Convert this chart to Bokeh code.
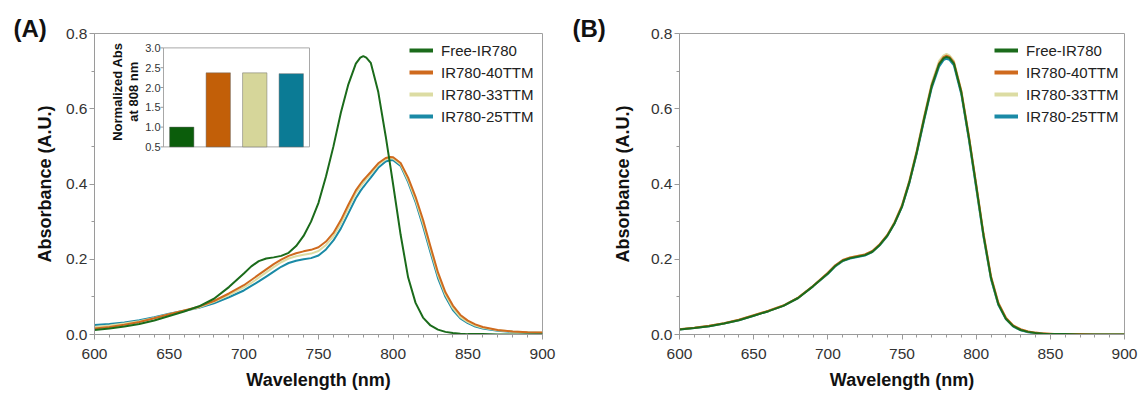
import math
import numpy as np
from bokeh.plotting import figure
from bokeh.models import (Range1d, Legend, LegendItem, FixedTicker,
                          PrintfTickFormatter)
from bokeh.layouts import row
from bokeh.embed import file_html
from bokeh.resources import INLINE
from bokeh.core.properties import value

# ---------------- data ----------------
series_names = ["Free-IR780", "IR780-40TTM", "IR780-33TTM", "IR780-25TTM"]
line_colors = ["#1b6b1b", "#cf6a1e", "#dcdca3", "#1a8aa6"]
bar_colors = ["#0b5d0b", "#c25f08", "#d6d69a", "#0b7b95"]

wavelength = [600, 610, 620, 630, 640, 650, 660, 670, 680, 690,
              700, 705, 710, 715, 720, 725, 730, 735, 740, 745,
              750, 755, 760, 765, 770, 775, 778, 780, 782, 785, 790, 795, 798,
              800, 805, 810, 815, 820, 825, 830, 835, 840, 845,
              850, 855, 860, 870, 880, 890, 900]

A_free = [0.012, 0.016, 0.021, 0.028, 0.037, 0.049, 0.061, 0.075, 0.095, 0.126,
          0.162, 0.181, 0.195, 0.202, 0.205, 0.209, 0.217, 0.235, 0.262, 0.300,
          0.350, 0.420, 0.500, 0.590, 0.665, 0.720, 0.736, 0.740, 0.736, 0.722, 0.645, 0.527, 0.450,
          0.398, 0.265, 0.152, 0.084, 0.045, 0.024, 0.013, 0.007, 0.004, 0.002,
          0.001, 0.001, 0.001, 0.0, 0.0, 0.0, 0.0]
A_40 = [0.016, 0.020, 0.026, 0.033, 0.043, 0.054, 0.064, 0.074, 0.089, 0.109,
        0.131, 0.145, 0.159, 0.173, 0.187, 0.199, 0.209, 0.216, 0.221, 0.225,
        0.232, 0.247, 0.270, 0.304, 0.345, 0.383, 0.400, 0.410, 0.419, 0.432, 0.455, 0.469, 0.472,
        0.471, 0.456, 0.417, 0.366, 0.305, 0.234, 0.165, 0.112, 0.077, 0.052,
        0.037, 0.027, 0.020, 0.012, 0.008, 0.006, 0.005]
A_33 = [0.020, 0.024, 0.029, 0.035, 0.044, 0.054, 0.063, 0.072, 0.087, 0.105,
        0.125, 0.137, 0.151, 0.165, 0.179, 0.192, 0.202, 0.208, 0.212, 0.215,
        0.222, 0.238, 0.261, 0.295, 0.336, 0.376, 0.393, 0.403, 0.413, 0.427, 0.451, 0.466, 0.469,
        0.468, 0.452, 0.410, 0.358, 0.296, 0.226, 0.158, 0.106, 0.070, 0.046,
        0.033, 0.024, 0.018, 0.011, 0.008, 0.006, 0.005]
A_25 = [0.025, 0.028, 0.032, 0.038, 0.046, 0.055, 0.063, 0.071, 0.083, 0.099,
        0.117, 0.129, 0.141, 0.154, 0.167, 0.180, 0.190, 0.196, 0.200, 0.203,
        0.210, 0.226, 0.250, 0.282, 0.322, 0.362, 0.381, 0.392, 0.402, 0.417, 0.443, 0.460, 0.463,
        0.463, 0.448, 0.405, 0.352, 0.288, 0.218, 0.150, 0.100, 0.065, 0.043,
        0.030, 0.021, 0.016, 0.010, 0.007, 0.005, 0.004]

B_free = [0.013, 0.017, 0.022, 0.029, 0.038, 0.050, 0.062, 0.076, 0.097, 0.128,
          0.162, 0.182, 0.196, 0.203, 0.207, 0.211, 0.220, 0.238, 0.262, 0.296,
          0.340, 0.405, 0.485, 0.575, 0.660, 0.718, 0.734, 0.738, 0.735, 0.720, 0.643, 0.525, 0.447,
          0.395, 0.262, 0.150, 0.080, 0.042, 0.022, 0.012, 0.007, 0.004, 0.002,
          0.001, 0.001, 0.001, 0.0, 0.0, 0.0, 0.0]
B_40 = [0.014, 0.018, 0.023, 0.030, 0.039, 0.051, 0.063, 0.077, 0.098, 0.129,
        0.164, 0.184, 0.198, 0.205, 0.209, 0.213, 0.222, 0.240, 0.264, 0.298,
        0.343, 0.408, 0.488, 0.578, 0.663, 0.721, 0.737, 0.741, 0.738, 0.723, 0.647, 0.530, 0.452,
        0.400, 0.267, 0.155, 0.084, 0.045, 0.024, 0.014, 0.008, 0.005, 0.003,
        0.002, 0.001, 0.001, 0.001, 0.0, 0.0, 0.0]
B_33 = [0.014, 0.018, 0.023, 0.030, 0.039, 0.051, 0.063, 0.077, 0.098, 0.129,
        0.163, 0.183, 0.197, 0.205, 0.209, 0.213, 0.221, 0.239, 0.264, 0.299,
        0.344, 0.410, 0.491, 0.582, 0.668, 0.727, 0.742, 0.746, 0.742, 0.727, 0.648, 0.529, 0.451,
        0.398, 0.264, 0.152, 0.082, 0.044, 0.023, 0.013, 0.008, 0.004, 0.002,
        0.001, 0.001, 0.001, 0.0, 0.0, 0.0, 0.0]
B_25 = [0.013, 0.017, 0.022, 0.029, 0.038, 0.050, 0.062, 0.076, 0.097, 0.128,
        0.161, 0.181, 0.195, 0.202, 0.206, 0.210, 0.219, 0.237, 0.261, 0.295,
        0.339, 0.403, 0.482, 0.571, 0.655, 0.712, 0.729, 0.733, 0.730, 0.715, 0.638, 0.520, 0.442,
        0.390, 0.258, 0.147, 0.078, 0.041, 0.021, 0.011, 0.006, 0.003, 0.002,
        0.001, 0.001, 0.0, 0.0, 0.0, 0.0, 0.0]

inset_values = [1.0, 2.37, 2.37, 2.35]
inset_ticks = [0.5, 1.0, 1.5, 2.0, 2.5, 3.0]

x_major = [600, 650, 700, 750, 800, 850, 900]
x_minor = [610, 620, 630, 640, 660, 670, 680, 690, 710, 720, 730, 740,
           760, 770, 780, 790, 810, 820, 830, 840, 860, 870, 880, 890]
y_major = [0.0, 0.2, 0.4, 0.6, 0.8]
y_minor = [0.1, 0.3, 0.5, 0.7]

FONT = "Liberation Sans"
AX = "#9a9a9a"
H = 394
TOP, BOTTOM = 33, 60
FH = H - TOP - BOTTOM  # frame height 301


def make_fig(width, bl, br, ylabel_standoff, title, title_offset):
    p = figure(width=width, height=H, x_range=Range1d(600, 900),
               y_range=Range1d(0, 0.8), output_backend="svg",
               toolbar_location=None, min_border_left=bl,
               min_border_right=br, min_border_top=TOP,
               min_border_bottom=BOTTOM)
    p.title.text = title
    p.title.align = "left"
    p.title.offset = title_offset
    p.title.standoff = -21
    p.title.vertical_align = "top"
    p.title.text_font = FONT
    p.title.text_font_size = "24px"
    p.title.text_font_style = "bold"
    p.title.text_color = "#111111"
    p.grid.visible = False
    p.outline_line_color = "#a0a0a0"
    p.background_fill_color = "white"
    p.xaxis.ticker = FixedTicker(ticks=x_major, minor_ticks=x_minor)
    p.yaxis.ticker = FixedTicker(ticks=y_major, minor_ticks=y_minor)
    p.xaxis.formatter = PrintfTickFormatter(format="%d")
    p.yaxis.formatter = PrintfTickFormatter(format="%.1f")
    for ax in (p.xaxis[0], p.yaxis[0]):
        ax.axis_line_color = AX
        ax.major_tick_line_color = AX
        ax.minor_tick_line_color = AX
        ax.major_tick_in = 0
        ax.major_tick_out = 5
        ax.minor_tick_in = 0
        ax.minor_tick_out = 3
        ax.major_label_text_font = FONT
        ax.major_label_text_font_size = "15.5px"
        ax.major_label_text_color = "#333333"
        ax.axis_label_text_font = FONT
        ax.axis_label_text_font_size = "18px"
        ax.axis_label_text_font_style = "bold"
        ax.axis_label_text_color = "#111111"
    p.xaxis.axis_label = "Wavelength (nm)"
    p.yaxis.axis_label = "Absorbance (A.U.)"
    p.xaxis.major_label_standoff = 9
    p.xaxis.axis_label_standoff = 8
    p.yaxis.major_label_standoff = 2
    p.yaxis.axis_label_standoff = ylabel_standoff
    return p


def add_curves(p, ys):
    order = [3, 2, 1, 0]  # teal, khaki, orange, green on top
    for i in order:
        p.line(wavelength, ys[i], line_color=line_colors[i], line_width=2)
    # legend swatches (thicker lines, nothing drawn in the plot area)
    dummies = [p.line(x=np.array([np.nan]), y=np.array([np.nan]),
                      line_color=c, line_width=4) for c in line_colors]
    legend = Legend(items=[LegendItem(label=n, renderers=[r])
                           for n, r in zip(series_names, dummies)],
                    location=(315, 207), padding=0, margin=0, spacing=0,
                    glyph_width=24, glyph_height=22, label_height=22,
                    label_standoff=8, border_line_color=None,
                    background_fill_alpha=0,
                    label_text_font=FONT, label_text_font_size="15px",
                    label_text_color="#222222")
    p.add_layout(legend)


# ---------------- panel A ----------------
FW_A = 448
pA = make_fig(560, 94, 18, 8, "(A)", -81)
add_curves(pA, [A_free, A_40, A_33, A_25])

# inset geometry (pixels relative to frame)
ins_left, ins_w, ins_top, ins_h = 69.0, 146.0, 14.4, 99.0
n = len(inset_values)
ku = n / ins_w
ix0 = 0.5 - ins_left * ku
ix1 = ix0 + FW_A * ku
mv = (inset_ticks[-1] - inset_ticks[0]) / ins_h
iy1 = inset_ticks[-1] + ins_top * mv
iy0 = iy1 - FH * mv
pA.extra_x_ranges = {"ix": Range1d(ix0, ix1)}
pA.extra_y_ranges = {"iy": Range1d(iy0, iy1)}

cats = list(range(1, n + 1))
pA.quad(left=0.5, right=n + 0.5, bottom=inset_ticks[0], top=inset_ticks[-1],
        fill_color="white", line_color="#a8a8a8", line_width=1,
        x_range_name="ix", y_range_name="iy")
pA.vbar(x=cats, top=inset_values, bottom=inset_ticks[0], width=0.667,
        fill_color=bar_colors, line_color="#6a6a6a", line_alpha=0.6,
        line_width=0.8, x_range_name="ix", y_range_name="iy")
pA.segment(x0=[0.5 - 3 * ku] * len(inset_ticks), x1=[0.5] * len(inset_ticks),
           y0=inset_ticks, y1=inset_ticks, line_color=AX, line_width=1,
           x_range_name="ix", y_range_name="iy")
pA.text(x=[0.5] * len(inset_ticks), y=inset_ticks,
        text=["%.1f" % t for t in inset_ticks], x_offset=-3,
        text_align="right", text_baseline="middle",
        text_font=value(FONT), text_font_size="11px", text_color="#333333",
        x_range_name="ix", y_range_name="iy")
pA.text(x=[ix0 + 30.7 * ku], y=[iy1 - 58.2 * mv],
        text=["Normalized Abs\nat 808 nm"], angle=math.pi / 2,
        text_align="center", text_baseline="middle", text_line_height=1.05,
        text_font=value(FONT), text_font_size="13px", text_font_style="bold",
        text_color="#111111", x_range_name="ix", y_range_name="iy")

# ---------------- panel B ----------------
pB = make_fig(579, 119, 15, 15, "(B)", -107)
add_curves(pB, [B_free, B_40, B_33, B_25])

layout = row(pA, pB)
open("out.html", "w").write(file_html(layout, INLINE))
